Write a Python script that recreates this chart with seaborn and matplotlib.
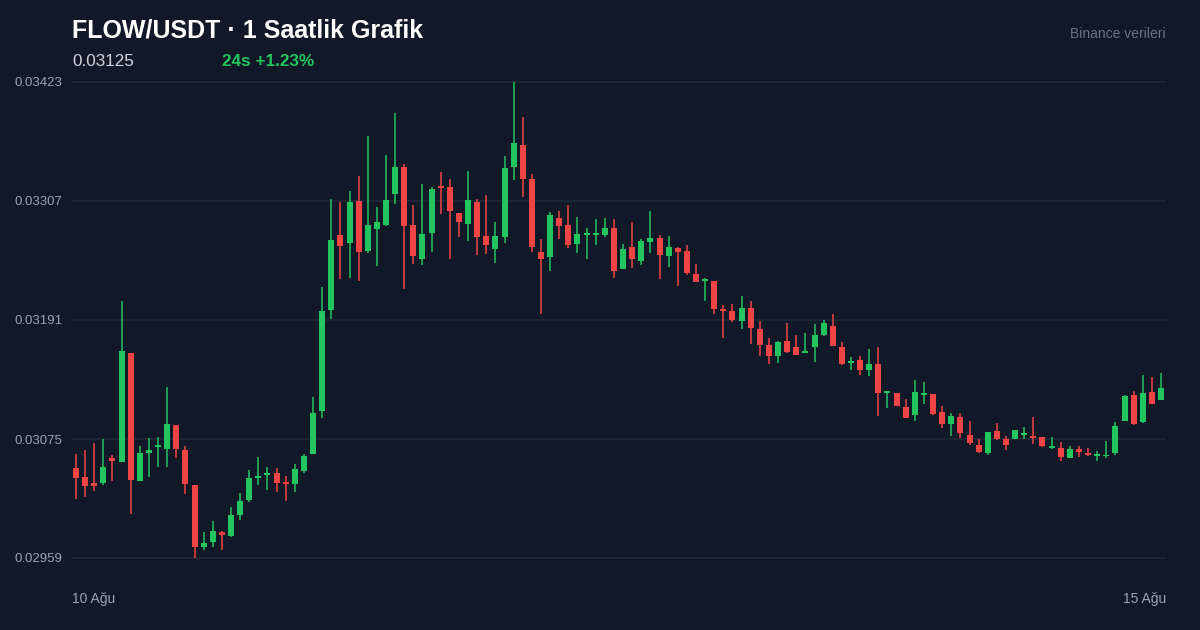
import numpy as np
import pandas as pd
import matplotlib
matplotlib.use("Agg")
import matplotlib.pyplot as plt
import seaborn as sns

# ---------------- data (FLOW/USDT, 1h candles) ----------------
opens = [0.03047, 0.03038, 0.03032, 0.03032, 0.03056, 0.03053, 0.03159, 0.03034, 0.03061, 0.03067,
         0.03065, 0.03089, 0.03064, 0.03030, 0.02970, 0.02975, 0.02984, 0.02980, 0.03001, 0.03016,
         0.03037, 0.03040, 0.03042, 0.03033, 0.03031, 0.03044, 0.03060, 0.03102, 0.03201, 0.03274,
         0.03266, 0.03307, 0.03258, 0.03280, 0.03284, 0.03314, 0.03340, 0.03284, 0.03250, 0.03276,
         0.03322, 0.03321, 0.03295, 0.03285, 0.03306, 0.03273, 0.03260, 0.03272, 0.03340, 0.03362,
         0.03328, 0.03257, 0.03252, 0.03290, 0.03284, 0.03265, 0.03274, 0.03274, 0.03274, 0.03281,
         0.03241, 0.03262, 0.03249, 0.03267, 0.03271, 0.03253, 0.03261, 0.03258, 0.03236, 0.03229,
         0.03229, 0.03201, 0.03200, 0.03190, 0.03203, 0.03182, 0.03167, 0.03156, 0.03171, 0.03165,
         0.03159, 0.03165, 0.03176, 0.03185, 0.03165, 0.03149, 0.03152, 0.03142, 0.03148, 0.03120,
         0.03120, 0.03106, 0.03098, 0.03118, 0.03119, 0.03101, 0.03090, 0.03096, 0.03079, 0.03069,
         0.03061, 0.03083, 0.03075, 0.03075, 0.03079, 0.03078, 0.03077, 0.03066, 0.03066, 0.03056,
         0.03065, 0.03061, 0.03058, 0.03058, 0.03061, 0.03093, 0.03118, 0.03092, 0.03121, 0.03113]
highs = [0.03060, 0.03064, 0.03071, 0.03075, 0.03059, 0.03210, 0.03159, 0.03068, 0.03076, 0.03077,
         0.03126, 0.03089, 0.03068, 0.03030, 0.02984, 0.02995, 0.02985, 0.03009, 0.03022, 0.03045,
         0.03057, 0.03048, 0.03047, 0.03039, 0.03051, 0.03060, 0.03116, 0.03223, 0.03309, 0.03306,
         0.03317, 0.03331, 0.03370, 0.03301, 0.03352, 0.03393, 0.03343, 0.03303, 0.03324, 0.03321,
         0.03335, 0.03328, 0.03295, 0.03336, 0.03309, 0.03313, 0.03287, 0.03351, 0.03423, 0.03389,
         0.03333, 0.03270, 0.03296, 0.03297, 0.03303, 0.03291, 0.03281, 0.03289, 0.03290, 0.03289,
         0.03265, 0.03287, 0.03270, 0.03297, 0.03274, 0.03273, 0.03262, 0.03264, 0.03246, 0.03232,
         0.03229, 0.03206, 0.03207, 0.03214, 0.03210, 0.03190, 0.03173, 0.03171, 0.03188, 0.03176,
         0.03178, 0.03187, 0.03191, 0.03197, 0.03170, 0.03155, 0.03156, 0.03163, 0.03165, 0.03122,
         0.03120, 0.03114, 0.03133, 0.03131, 0.03119, 0.03107, 0.03100, 0.03100, 0.03093, 0.03075,
         0.03082, 0.03091, 0.03078, 0.03084, 0.03087, 0.03096, 0.03077, 0.03077, 0.03072, 0.03068,
         0.03068, 0.03066, 0.03063, 0.03073, 0.03092, 0.03118, 0.03122, 0.03137, 0.03135, 0.03139]
lows = [0.03017, 0.03018, 0.03024, 0.03030, 0.03034, 0.03053, 0.03002, 0.03034, 0.03038, 0.03048,
        0.03048, 0.03056, 0.03021, 0.02959, 0.02967, 0.02970, 0.02967, 0.02979, 0.02996, 0.03014,
        0.03030, 0.03025, 0.03023, 0.03015, 0.03023, 0.03042, 0.03060, 0.03095, 0.03192, 0.03231,
        0.03232, 0.03229, 0.03256, 0.03244, 0.03283, 0.03304, 0.03221, 0.03246, 0.03245, 0.03257,
        0.03294, 0.03250, 0.03272, 0.03268, 0.03254, 0.03255, 0.03247, 0.03266, 0.03327, 0.03311,
        0.03257, 0.03197, 0.03239, 0.03270, 0.03261, 0.03256, 0.03250, 0.03264, 0.03272, 0.03232,
        0.03241, 0.03242, 0.03245, 0.03256, 0.03231, 0.03243, 0.03224, 0.03235, 0.03228, 0.03210,
        0.03197, 0.03173, 0.03189, 0.03182, 0.03168, 0.03156, 0.03148, 0.03149, 0.03159, 0.03157,
        0.03159, 0.03150, 0.03175, 0.03166, 0.03147, 0.03142, 0.03137, 0.03136, 0.03097, 0.03105,
        0.03107, 0.03095, 0.03093, 0.03109, 0.03098, 0.03086, 0.03078, 0.03076, 0.03069, 0.03061,
        0.03059, 0.03074, 0.03064, 0.03075, 0.03075, 0.03070, 0.03067, 0.03065, 0.03054, 0.03056,
        0.03057, 0.03058, 0.03054, 0.03056, 0.03059, 0.03093, 0.03089, 0.03091, 0.03109, 0.03113]
closes = [0.03037, 0.03029, 0.03029, 0.03048, 0.03054, 0.03161, 0.03035, 0.03061, 0.03064, 0.03069,
          0.03090, 0.03065, 0.03031, 0.02970, 0.02974, 0.02985, 0.02981, 0.03001, 0.03015, 0.03037,
          0.03039, 0.03042, 0.03032, 0.03031, 0.03046, 0.03058, 0.03100, 0.03200, 0.03269, 0.03263,
          0.03306, 0.03257, 0.03284, 0.03287, 0.03308, 0.03340, 0.03283, 0.03253, 0.03275, 0.03319,
          0.03320, 0.03297, 0.03287, 0.03308, 0.03272, 0.03264, 0.03273, 0.03339, 0.03364, 0.03328,
          0.03262, 0.03250, 0.03293, 0.03283, 0.03264, 0.03275, 0.03276, 0.03276, 0.03281, 0.03239,
          0.03260, 0.03250, 0.03268, 0.03271, 0.03254, 0.03262, 0.03257, 0.03237, 0.03228, 0.03231,
          0.03202, 0.03200, 0.03191, 0.03203, 0.03183, 0.03167, 0.03156, 0.03170, 0.03160, 0.03157,
          0.03161, 0.03176, 0.03188, 0.03166, 0.03148, 0.03150, 0.03142, 0.03148, 0.03120, 0.03121,
          0.03107, 0.03095, 0.03121, 0.03120, 0.03099, 0.03090, 0.03097, 0.03081, 0.03071, 0.03062,
          0.03082, 0.03075, 0.03069, 0.03084, 0.03081, 0.03076, 0.03068, 0.03068, 0.03057, 0.03065,
          0.03062, 0.03059, 0.03060, 0.03059, 0.03088, 0.03117, 0.03090, 0.03120, 0.03109, 0.03125]

y_ticks = [0.02959, 0.03075, 0.03191, 0.03307, 0.03423]
date_labels = ["10 Ağu", "15 Ağu"]
title = "FLOW/USDT · 1 Saatlik Grafik"
last_price = "0.03125"
change_text = "24s +1.23%"
source_text = "Binance verileri"

# ---------------- style ----------------
BG = "#111827"
GRID = "#1f2937"
UP = "#22c55e"
DOWN = "#ef4444"

sns.set_theme(style="dark", rc={"axes.facecolor": BG, "figure.facecolor": BG})
plt.rcParams["font.family"] = ["Liberation Sans", "DejaVu Sans"]

df = pd.DataFrame({"open": opens, "high": highs, "low": lows, "close": closes})
df["idx"] = np.arange(len(df))
df["up"] = df["close"] >= df["open"]
df["color"] = np.where(df["up"], UP, DOWN)
df["bottom"] = df[["open", "close"]].min(axis=1)
df["height"] = (df["close"] - df["open"]).abs().clip(lower=0.000018)

fig = plt.figure(figsize=(12, 6.3), dpi=100)
ax = fig.add_axes([72 / 1200, 1 - 558 / 630, (1166 - 72) / 1200, (558 - 82) / 630])
ax.set_facecolor(BG)

for t in y_ticks:
    ax.axhline(t, color=GRID, lw=1.1, zorder=0, clip_on=False)

ax.vlines(df["idx"], df["low"], df["high"], colors=df["color"], linewidth=1.1, zorder=2)
ax.bar(df["idx"], df["height"], bottom=df["bottom"], width=0.66,
       color=df["color"], linewidth=0, zorder=3)

ax.set_xlim(-0.44, len(df) - 1 + 0.55)
ax.set_ylim(min(y_ticks), max(y_ticks))
ax.set_yticks(y_ticks)
ax.set_yticklabels([f"{v:.5f}" for v in y_ticks], color="#9ca3af", fontsize=9.5)
ax.tick_params(axis="y", length=0, pad=7)
ax.set_xticks([])
ax.grid(False)
sns.despine(ax=ax, left=True, bottom=True)

# ---------------- texts ----------------
fig.text(72 / 1200, 1 - 37.7 / 630, title, color="white", fontsize=18,
         fontweight="bold", va="baseline", ha="left")
fig.text(1166 / 1200, 1 - 37.7 / 630, source_text, color="#6b7280", fontsize=10,
         va="baseline", ha="right")
fig.text(72 / 1200, 1 - 66 / 630, last_price, color="#d1d5db", fontsize=12.3,
         va="baseline", ha="left")
fig.text(222 / 1200, 1 - 66 / 630, change_text, color=UP, fontsize=12.3,
         fontweight="bold", va="baseline", ha="left")
fig.text(72 / 1200, 1 - 603.5 / 630, date_labels[0], color="#9ca3af", fontsize=10,
         va="baseline", ha="left")
fig.text(1166 / 1200, 1 - 603.5 / 630, date_labels[1], color="#9ca3af", fontsize=10,
         va="baseline", ha="right")

fig.savefig("out.png", dpi=100, facecolor=BG)
